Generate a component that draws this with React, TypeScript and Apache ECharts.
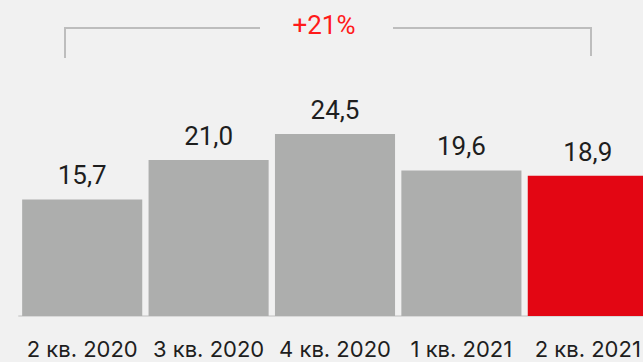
import React, { useEffect, useRef } from "react";
import * as echarts from "echarts";

const categories = ["2 кв. 2020", "3 кв. 2020", "4 кв. 2020", "1 кв. 2021", "2 кв. 2021"];
const values = [15.7, 21.0, 24.5, 19.6, 18.9];
const barColors = ["#adaead", "#adaead", "#adaead", "#adaead", "#e30613"];
const growthLabel = "+21%";

export default function App() {
  const ref = useRef<HTMLDivElement>(null);
  useEffect(() => {
    if (!ref.current) return;
    const chart = echarts.init(ref.current, null, { renderer: "svg" });
    const font = "Inter, Roboto, sans-serif";
    const numFont = "Roboto, Inter, sans-serif";
    const bracket = { stroke: "#bdbdbd", lineWidth: 2 };
    chart.setOption({
      animation: false,
      backgroundColor: "#f1f1f1",
      grid: { left: 19, right: 0, top: 19, bottom: 46 },
      xAxis: {
        type: "category",
        data: categories,
        axisLine: { lineStyle: { color: "#d8d8d8", width: 2 } },
        axisTick: { show: false },
        axisLabel: { color: "#1e1e1e", fontSize: 22, fontFamily: font, margin: 22, interval: 0 },
      },
      yAxis: { type: "value", min: 0, max: 40, show: false, splitLine: { show: false } },
      series: [
        {
          type: "bar",
          barCategoryGap: "5%",
          data: values.map((v, i) => ({ value: v, itemStyle: { color: barColors[i] } })),
          label: {
            show: true,
            position: "top",
            distance: 11,
            fontSize: 26,
            fontFamily: numFont,
            color: "#1e1e1e",
            formatter: (p: any) => p.value.toFixed(1).replace(".", ","),
          },
        },
      ],
      graphic: [
        { type: "line", shape: { x1: 65, y1: 58, x2: 65, y2: 28 }, style: bracket },
        { type: "line", shape: { x1: 64, y1: 28, x2: 260, y2: 28 }, style: bracket },
        { type: "line", shape: { x1: 393, y1: 28, x2: 592, y2: 28 }, style: bracket },
        { type: "line", shape: { x1: 591, y1: 28, x2: 591, y2: 56 }, style: bracket },
        {
          type: "text",
          x: 324,
          y: 25,
          style: {
            text: growthLabel,
            fill: "#ff1a1a",
            fontSize: 26,
            fontFamily: numFont,
            align: "center",
            verticalAlign: "middle",
          },
        },
      ],
    });
    return () => chart.dispose();
  }, []);
  return (
    <div style={{ position: "fixed", left: 0, top: 0, width: 643, height: 362, overflow: "hidden", background: "#f1f1f1" }}>
      <div ref={ref} style={{ width: 651, height: 362 }} />
    </div>
  );
}
